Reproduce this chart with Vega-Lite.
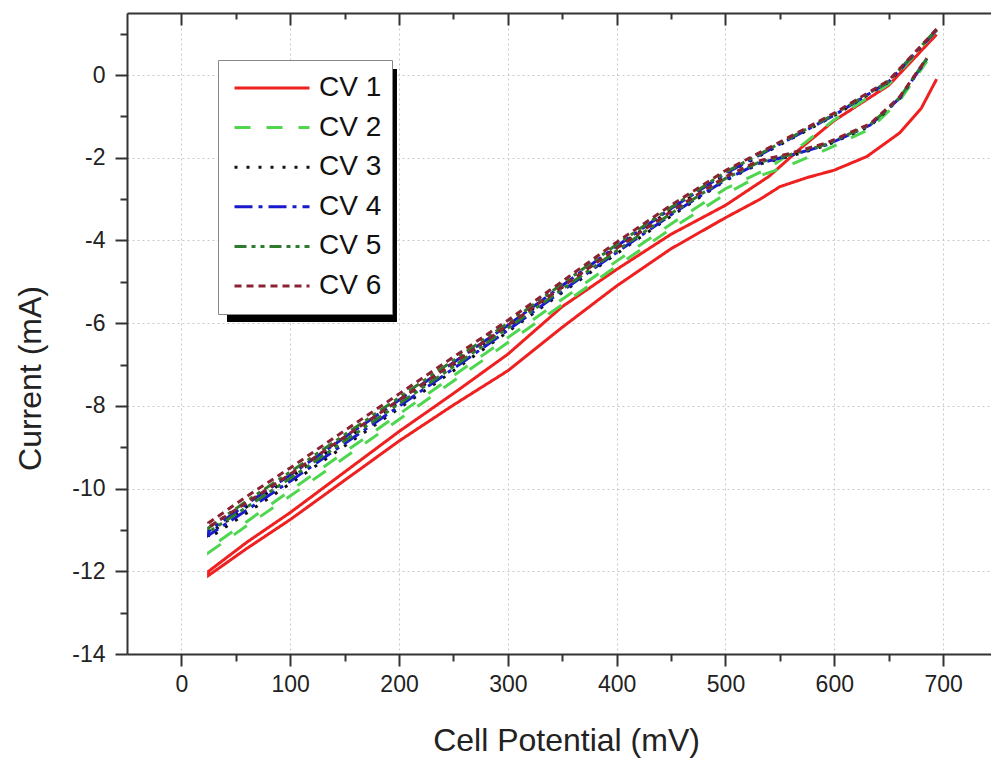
{
  "$schema": "https://vega.github.io/schema/vega-lite/v6.json",
  "autosize": {"type": "none"},
  "padding": {"left": 127, "top": 13, "right": 0, "bottom": 105},
  "width": 864,
  "height": 641,
  "background": "white",
  "config": {
    "view": {"stroke": null},
    "axis": {
      "domainColor": "#333333", "domainWidth": 2,
      "tickColor": "#333333", "tickWidth": 2,
      "labelFont": "Liberation Sans", "labelFontSize": 23, "labelColor": "#222222",
      "labelExpr": "toString(datum.value)",
      "titleFont": "Liberation Sans", "titleFontSize": 32, "titleFontWeight": "normal", "titleColor": "#222222",
      "gridColor": "#c8c8c8", "gridDash": [2, 3], "gridWidth": 1
    }
  },
  "data": {"values": [
    {"cv":"CV 1","i":1,"x":694,"y":0.98},{"cv":"CV 1","i":2,"x":650,"y":-0.25},{"cv":"CV 1","i":3,"x":600,"y":-1.1},{"cv":"CV 1","i":4,"x":570,"y":-1.75},{"cv":"CV 1","i":5,"x":540,"y":-2.45},{"cv":"CV 1","i":6,"x":500,"y":-3.15},{"cv":"CV 1","i":7,"x":450,"y":-3.85},{"cv":"CV 1","i":8,"x":400,"y":-4.7},{"cv":"CV 1","i":9,"x":350,"y":-5.6},{"cv":"CV 1","i":10,"x":300,"y":-6.75},{"cv":"CV 1","i":11,"x":250,"y":-7.7},{"cv":"CV 1","i":12,"x":200,"y":-8.62},{"cv":"CV 1","i":13,"x":150,"y":-9.6},{"cv":"CV 1","i":14,"x":100,"y":-10.58},{"cv":"CV 1","i":15,"x":60,"y":-11.3},{"cv":"CV 1","i":16,"x":25,"y":-12.0},
    {"cv":"CV 1","i":17,"x":25,"y":-12.1},{"cv":"CV 1","i":18,"x":60,"y":-11.45},{"cv":"CV 1","i":19,"x":100,"y":-10.75},{"cv":"CV 1","i":20,"x":150,"y":-9.8},{"cv":"CV 1","i":21,"x":200,"y":-8.85},{"cv":"CV 1","i":22,"x":250,"y":-7.98},{"cv":"CV 1","i":23,"x":300,"y":-7.15},{"cv":"CV 1","i":24,"x":350,"y":-6.1},{"cv":"CV 1","i":25,"x":400,"y":-5.1},{"cv":"CV 1","i":26,"x":450,"y":-4.2},{"cv":"CV 1","i":27,"x":500,"y":-3.45},{"cv":"CV 1","i":28,"x":532,"y":-3.0},{"cv":"CV 1","i":29,"x":550,"y":-2.7},{"cv":"CV 1","i":30,"x":575,"y":-2.48},{"cv":"CV 1","i":31,"x":600,"y":-2.3},{"cv":"CV 1","i":32,"x":630,"y":-1.97},{"cv":"CV 1","i":33,"x":660,"y":-1.4},{"cv":"CV 1","i":34,"x":680,"y":-0.8},{"cv":"CV 1","i":35,"x":694,"y":-0.1},

    {"cv":"CV 2","i":1,"x":692,"y":1.02},{"cv":"CV 2","i":2,"x":650,"y":-0.22},{"cv":"CV 2","i":3,"x":600,"y":-1.08},{"cv":"CV 2","i":4,"x":570,"y":-1.7},{"cv":"CV 2","i":5,"x":540,"y":-2.25},{"cv":"CV 2","i":6,"x":500,"y":-2.75},{"cv":"CV 2","i":7,"x":450,"y":-3.6},{"cv":"CV 2","i":8,"x":400,"y":-4.5},{"cv":"CV 2","i":9,"x":350,"y":-5.42},{"cv":"CV 2","i":10,"x":300,"y":-6.35},{"cv":"CV 2","i":11,"x":250,"y":-7.27},{"cv":"CV 2","i":12,"x":200,"y":-8.2},{"cv":"CV 2","i":13,"x":150,"y":-9.12},{"cv":"CV 2","i":14,"x":100,"y":-10.05},{"cv":"CV 2","i":15,"x":60,"y":-10.8},{"cv":"CV 2","i":16,"x":25,"y":-11.45},
    {"cv":"CV 2","i":17,"x":25,"y":-11.55},{"cv":"CV 2","i":18,"x":60,"y":-10.9},{"cv":"CV 2","i":19,"x":100,"y":-10.18},{"cv":"CV 2","i":20,"x":150,"y":-9.25},{"cv":"CV 2","i":21,"x":200,"y":-8.33},{"cv":"CV 2","i":22,"x":250,"y":-7.4},{"cv":"CV 2","i":23,"x":300,"y":-6.47},{"cv":"CV 2","i":24,"x":350,"y":-5.55},{"cv":"CV 2","i":25,"x":400,"y":-4.62},{"cv":"CV 2","i":26,"x":450,"y":-3.72},{"cv":"CV 2","i":27,"x":500,"y":-2.88},{"cv":"CV 2","i":28,"x":530,"y":-2.45},{"cv":"CV 2","i":29,"x":555,"y":-2.22},{"cv":"CV 2","i":30,"x":593,"y":-1.8},{"cv":"CV 2","i":31,"x":633,"y":-1.3},{"cv":"CV 2","i":32,"x":660,"y":-0.62},{"cv":"CV 2","i":33,"x":685,"y":0.33},

    {"cv":"CV 3","i":1,"x":694,"y":1.09},{"cv":"CV 3","i":2,"x":650,"y":-0.17},{"cv":"CV 3","i":3,"x":600,"y":-0.98},{"cv":"CV 3","i":4,"x":550,"y":-1.69},{"cv":"CV 3","i":5,"x":500,"y":-2.4},{"cv":"CV 3","i":6,"x":450,"y":-3.26},{"cv":"CV 3","i":7,"x":400,"y":-4.17},{"cv":"CV 3","i":8,"x":350,"y":-5.13},{"cv":"CV 3","i":9,"x":300,"y":-6.09},{"cv":"CV 3","i":10,"x":250,"y":-7.0},{"cv":"CV 3","i":11,"x":200,"y":-7.91},{"cv":"CV 3","i":12,"x":150,"y":-8.82},{"cv":"CV 3","i":13,"x":100,"y":-9.73},{"cv":"CV 3","i":14,"x":60,"y":-10.44},{"cv":"CV 3","i":15,"x":25,"y":-11.1},
    {"cv":"CV 3","i":16,"x":25,"y":-11.2},{"cv":"CV 3","i":17,"x":60,"y":-10.59},{"cv":"CV 3","i":18,"x":100,"y":-9.88},{"cv":"CV 3","i":19,"x":150,"y":-8.97},{"cv":"CV 3","i":20,"x":200,"y":-8.06},{"cv":"CV 3","i":21,"x":250,"y":-7.15},{"cv":"CV 3","i":22,"x":300,"y":-6.21},{"cv":"CV 3","i":23,"x":350,"y":-5.26},{"cv":"CV 3","i":24,"x":400,"y":-4.32},{"cv":"CV 3","i":25,"x":450,"y":-3.41},{"cv":"CV 3","i":26,"x":500,"y":-2.55},{"cv":"CV 3","i":27,"x":530,"y":-2.16},{"cv":"CV 3","i":28,"x":560,"y":-1.96},{"cv":"CV 3","i":29,"x":593,"y":-1.7},{"cv":"CV 3","i":30,"x":633,"y":-1.23},{"cv":"CV 3","i":31,"x":660,"y":-0.57},{"cv":"CV 3","i":32,"x":685,"y":0.39},

    {"cv":"CV 4","i":1,"x":694,"y":1.09},{"cv":"CV 4","i":2,"x":650,"y":-0.16},{"cv":"CV 4","i":3,"x":600,"y":-0.97},{"cv":"CV 4","i":4,"x":550,"y":-1.67},{"cv":"CV 4","i":5,"x":500,"y":-2.38},{"cv":"CV 4","i":6,"x":450,"y":-3.23},{"cv":"CV 4","i":7,"x":400,"y":-4.14},{"cv":"CV 4","i":8,"x":350,"y":-5.09},{"cv":"CV 4","i":9,"x":300,"y":-6.05},{"cv":"CV 4","i":10,"x":250,"y":-6.95},{"cv":"CV 4","i":11,"x":200,"y":-7.86},{"cv":"CV 4","i":12,"x":150,"y":-8.76},{"cv":"CV 4","i":13,"x":100,"y":-9.67},{"cv":"CV 4","i":14,"x":60,"y":-10.37},{"cv":"CV 4","i":15,"x":25,"y":-11.03},
    {"cv":"CV 4","i":16,"x":25,"y":-11.13},{"cv":"CV 4","i":17,"x":60,"y":-10.52},{"cv":"CV 4","i":18,"x":100,"y":-9.82},{"cv":"CV 4","i":19,"x":150,"y":-8.91},{"cv":"CV 4","i":20,"x":200,"y":-8.01},{"cv":"CV 4","i":21,"x":250,"y":-7.1},{"cv":"CV 4","i":22,"x":300,"y":-6.17},{"cv":"CV 4","i":23,"x":350,"y":-5.22},{"cv":"CV 4","i":24,"x":400,"y":-4.29},{"cv":"CV 4","i":25,"x":450,"y":-3.38},{"cv":"CV 4","i":26,"x":500,"y":-2.53},{"cv":"CV 4","i":27,"x":530,"y":-2.14},{"cv":"CV 4","i":28,"x":560,"y":-1.94},{"cv":"CV 4","i":29,"x":593,"y":-1.69},{"cv":"CV 4","i":30,"x":633,"y":-1.21},{"cv":"CV 4","i":31,"x":660,"y":-0.56},{"cv":"CV 4","i":32,"x":685,"y":0.39},

    {"cv":"CV 5","i":1,"x":694,"y":1.1},{"cv":"CV 5","i":2,"x":650,"y":-0.15},{"cv":"CV 5","i":3,"x":600,"y":-0.95},{"cv":"CV 5","i":4,"x":550,"y":-1.65},{"cv":"CV 5","i":5,"x":500,"y":-2.35},{"cv":"CV 5","i":6,"x":450,"y":-3.2},{"cv":"CV 5","i":7,"x":400,"y":-4.1},{"cv":"CV 5","i":8,"x":350,"y":-5.05},{"cv":"CV 5","i":9,"x":300,"y":-6.0},{"cv":"CV 5","i":10,"x":250,"y":-6.9},{"cv":"CV 5","i":11,"x":200,"y":-7.8},{"cv":"CV 5","i":12,"x":150,"y":-8.7},{"cv":"CV 5","i":13,"x":100,"y":-9.6},{"cv":"CV 5","i":14,"x":60,"y":-10.3},{"cv":"CV 5","i":15,"x":25,"y":-10.95},
    {"cv":"CV 5","i":16,"x":25,"y":-11.05},{"cv":"CV 5","i":17,"x":60,"y":-10.45},{"cv":"CV 5","i":18,"x":100,"y":-9.75},{"cv":"CV 5","i":19,"x":150,"y":-8.85},{"cv":"CV 5","i":20,"x":200,"y":-7.95},{"cv":"CV 5","i":21,"x":250,"y":-7.05},{"cv":"CV 5","i":22,"x":300,"y":-6.12},{"cv":"CV 5","i":23,"x":350,"y":-5.18},{"cv":"CV 5","i":24,"x":400,"y":-4.25},{"cv":"CV 5","i":25,"x":450,"y":-3.35},{"cv":"CV 5","i":26,"x":500,"y":-2.5},{"cv":"CV 5","i":27,"x":530,"y":-2.12},{"cv":"CV 5","i":28,"x":560,"y":-1.92},{"cv":"CV 5","i":29,"x":593,"y":-1.67},{"cv":"CV 5","i":30,"x":633,"y":-1.2},{"cv":"CV 5","i":31,"x":660,"y":-0.55},{"cv":"CV 5","i":32,"x":685,"y":0.4},

    {"cv":"CV 6","i":1,"x":694,"y":1.11},{"cv":"CV 6","i":2,"x":650,"y":-0.13},{"cv":"CV 6","i":3,"x":600,"y":-0.92},{"cv":"CV 6","i":4,"x":550,"y":-1.62},{"cv":"CV 6","i":5,"x":500,"y":-2.31},{"cv":"CV 6","i":6,"x":450,"y":-3.15},{"cv":"CV 6","i":7,"x":400,"y":-4.04},{"cv":"CV 6","i":8,"x":350,"y":-4.99},{"cv":"CV 6","i":9,"x":300,"y":-5.93},{"cv":"CV 6","i":10,"x":250,"y":-6.82},{"cv":"CV 6","i":11,"x":200,"y":-7.71},{"cv":"CV 6","i":12,"x":150,"y":-8.6},{"cv":"CV 6","i":13,"x":100,"y":-9.5},{"cv":"CV 6","i":14,"x":60,"y":-10.19},{"cv":"CV 6","i":15,"x":25,"y":-10.83},
    {"cv":"CV 6","i":16,"x":25,"y":-10.93},{"cv":"CV 6","i":17,"x":60,"y":-10.34},{"cv":"CV 6","i":18,"x":100,"y":-9.65},{"cv":"CV 6","i":19,"x":150,"y":-8.75},{"cv":"CV 6","i":20,"x":200,"y":-7.86},{"cv":"CV 6","i":21,"x":250,"y":-6.97},{"cv":"CV 6","i":22,"x":300,"y":-6.05},{"cv":"CV 6","i":23,"x":350,"y":-5.12},{"cv":"CV 6","i":24,"x":400,"y":-4.19},{"cv":"CV 6","i":25,"x":450,"y":-3.3},{"cv":"CV 6","i":26,"x":500,"y":-2.46},{"cv":"CV 6","i":27,"x":530,"y":-2.08},{"cv":"CV 6","i":28,"x":560,"y":-1.89},{"cv":"CV 6","i":29,"x":593,"y":-1.64},{"cv":"CV 6","i":30,"x":633,"y":-1.18},{"cv":"CV 6","i":31,"x":660,"y":-0.53},{"cv":"CV 6","i":32,"x":685,"y":0.41}
  ]},
  "layer": [
    {
      "data": {"values": [{}]},
      "mark": {"type": "rect", "color": "black"},
      "encoding": {
        "x": {"datum": 41.9, "type": "quantitative", "scale": {"domain": [-50, 744], "nice": false, "zero": false},
              "axis": {"orient": "bottom", "values": [50, 150, 250, 350, 450, 550, 650], "tickSize": 7, "labels": false, "domain": false, "grid": false, "title": null}},
        "x2": {"datum": 198.1},
        "y": {"datum": 0.146, "type": "quantitative", "scale": {"domain": [-14, 1.5], "nice": false, "zero": false},
              "axis": {"orient": "left", "values": [1, -1, -3, -5, -7, -9, -11, -13], "tickSize": 7, "labels": false, "domain": false, "grid": false, "title": null}},
        "y2": {"datum": -5.97}
      }
    },
    {
      "data": {"values": [{}]},
      "mark": {"type": "point", "opacity": 0},
      "encoding": {
        "x": {"datum": 0, "type": "quantitative", "scale": {"domain": [-50, 744], "nice": false, "zero": false},
              "axis": {"orient": "top", "values": [0, 100, 200, 300, 400, 500, 600, 700], "tickSize": -12, "labels": false, "domain": true, "grid": false, "title": null}}
      }
    },
    {
      "data": {"values": [{}]},
      "mark": {"type": "point", "opacity": 0},
      "encoding": {
        "x": {"datum": 0, "type": "quantitative", "scale": {"domain": [-50, 744], "nice": false, "zero": false},
              "axis": {"orient": "top", "values": [50, 150, 250, 350, 450, 550, 650], "tickSize": -6, "labels": false, "domain": false, "grid": false, "title": null}}
      }
    },
    {
      "mark": {"type": "line", "strokeWidth": 3},
      "encoding": {
        "x": {"field": "x", "type": "quantitative", "scale": {"domain": [-50, 744], "nice": false, "zero": false},
              "axis": {"orient": "bottom", "values": [0, 100, 200, 300, 400, 500, 600, 700], "tickSize": 12, "labelPadding": 7, "grid": true,
                       "title": "Cell Potential (mV)", "titleX": 439, "titleY": 86, "titleBaseline": "middle"}},
        "y": {"field": "y", "type": "quantitative", "scale": {"domain": [-14, 1.5], "nice": false, "zero": false},
              "axis": {"orient": "left", "values": [0, -2, -4, -6, -8, -10, -12, -14], "tickSize": 12, "labelPadding": 10, "grid": true,
                       "title": "Current (mA)", "titleX": -97, "titleY": 365, "titleBaseline": "middle"}},
        "order": {"field": "i", "type": "quantitative"},
        "color": {"field": "cv", "type": "nominal",
                  "scale": {"domain": ["CV 1", "CV 2", "CV 3", "CV 4", "CV 5", "CV 6"], "range": ["#ee2020", "#4fd64f", "#111111", "#1a1acc", "#2e7d2e", "#8b2232"]},
                  "legend": {"orient": "none", "legendX": 91, "legendY": 47, "title": null, "symbolType": "stroke", "symbolSize": 5625, "symbolStrokeWidth": 3,
                             "labelFontSize": 28, "labelFont": "Liberation Sans", "labelColor": "#111111", "padding": 10, "strokeColor": "#888888", "fillColor": "white",
                             "clipHeight": 36, "rowPadding": 3.6, "labelOffset": 8, "symbolOffset": 5}},
        "strokeDash": {"field": "cv", "type": "nominal",
                  "scale": {"domain": ["CV 1", "CV 2", "CV 3", "CV 4", "CV 5", "CV 6"], "range": [[1, 0], [16, 16], [3, 9], [18, 6, 4, 6], [12, 5, 4, 5, 4, 5], [7, 5]]},
                  "legend": {"orient": "none", "legendX": 91, "legendY": 47, "title": null, "symbolType": "stroke", "symbolSize": 5625, "symbolStrokeWidth": 3,
                             "labelFontSize": 28, "labelFont": "Liberation Sans", "labelColor": "#111111", "padding": 10, "strokeColor": "#888888", "fillColor": "white",
                             "clipHeight": 36, "rowPadding": 3.6, "labelOffset": 8, "symbolOffset": 5}}
      }
    }
  ],
  "resolve": {"axis": {"x": "independent", "y": "independent"}}
}
